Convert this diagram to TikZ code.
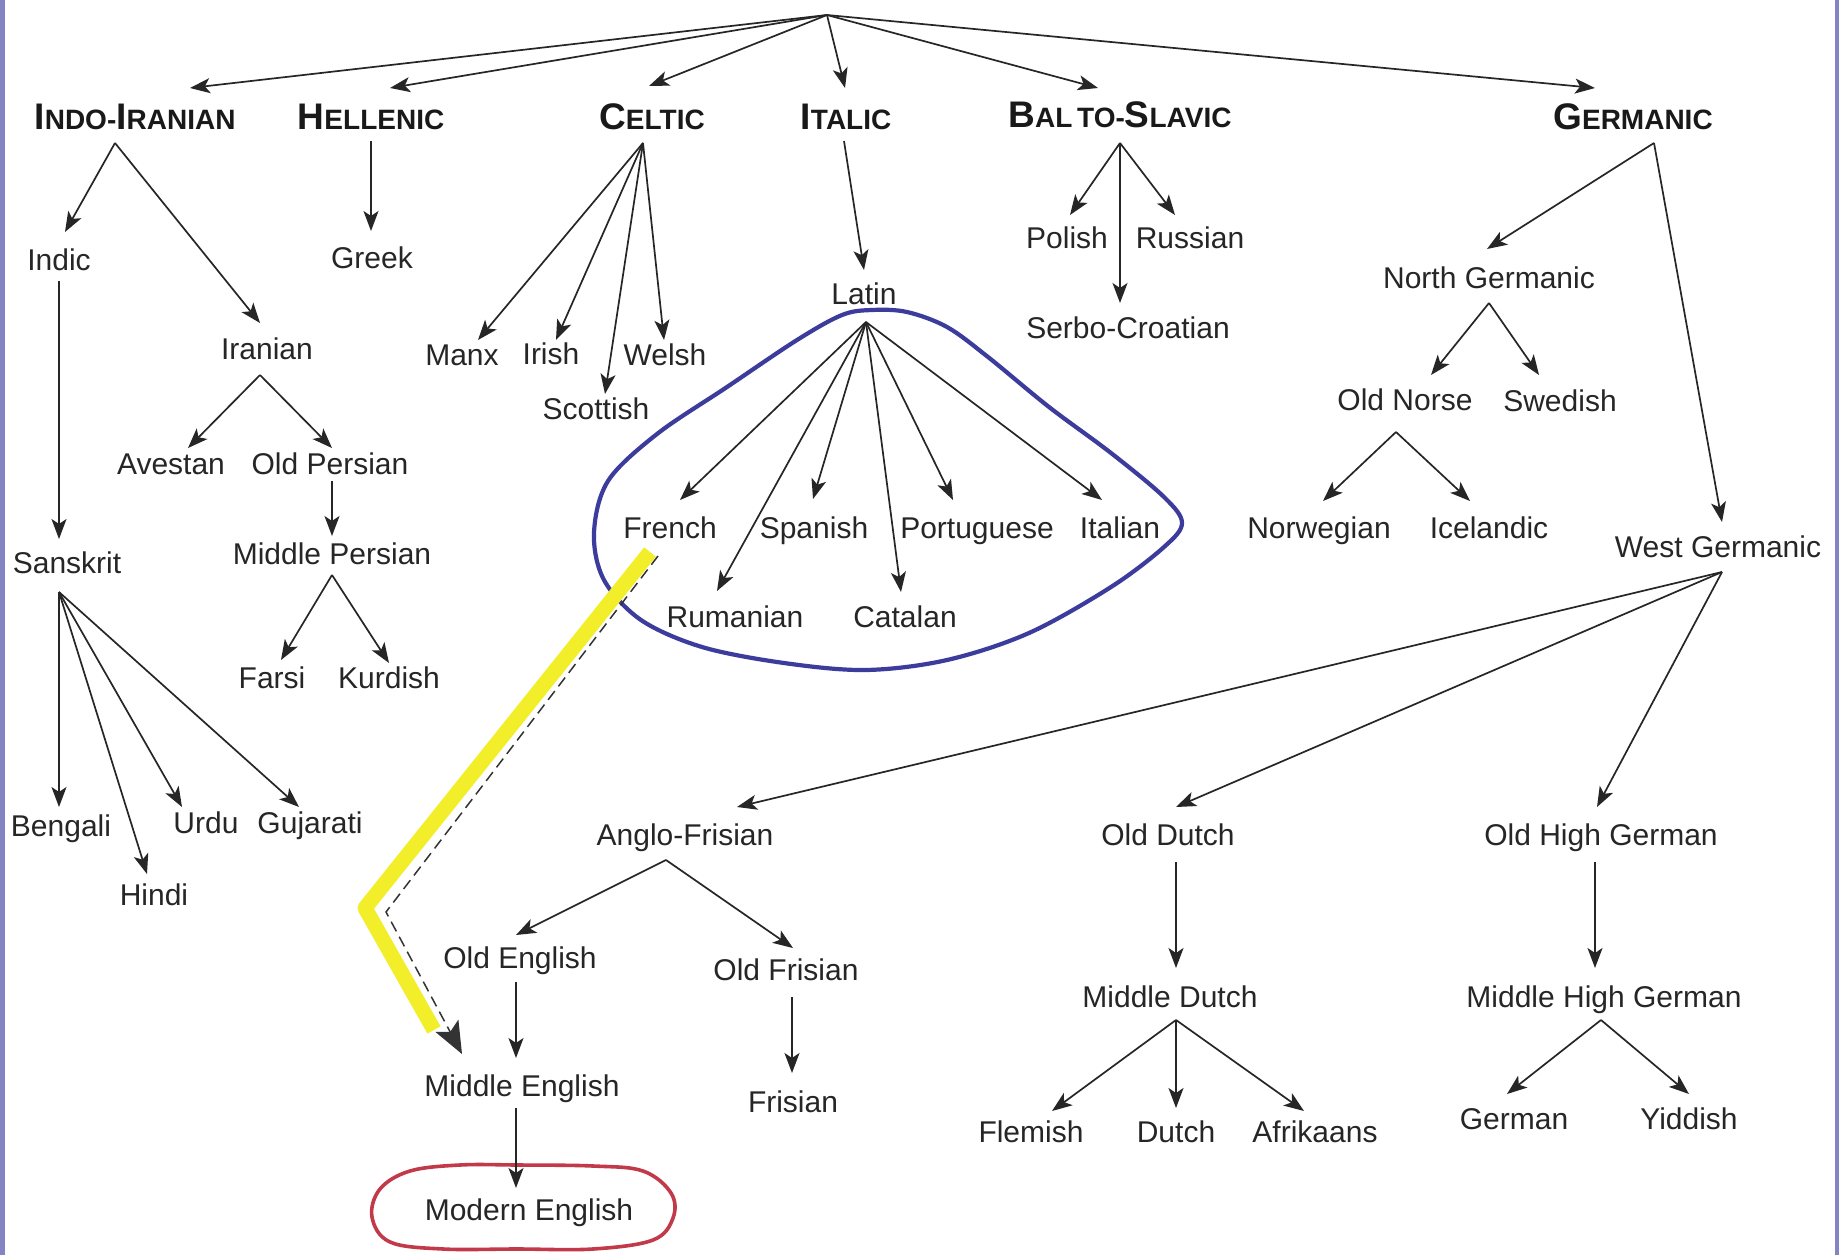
\documentclass[tikz,border=0pt]{standalone}
\usepackage{fontspec}
\setmainfont{Liberation Sans}
\usetikzlibrary{arrows.meta}
\definecolor{stripc}{HTML}{8484C4}
\definecolor{loopblue}{HTML}{3C3C9C}
\definecolor{hlyellow}{HTML}{F2EE2A}
\definecolor{ringred}{HTML}{C23A4A}
\newcommand\bigc[1]{{\fontsize{37}{40}\selectfont #1}}
\begin{document}
\begin{tikzpicture}[x=1pt,y=-1pt,
  lbl/.style={font=\fontsize{30}{34}\selectfont, text=black!85, inner sep=0pt, text height=22pt, text depth=1pt},
  hdr/.style={font=\fontsize{28}{32}\selectfont\bfseries, text=black!90, inner sep=0pt},
  arr/.style={-{Stealth[length=20pt,width=15pt,inset=5pt]}, line width=1.7pt, draw=black!85},
  bigarr/.style={-{Stealth[length=32pt,width=26pt,inset=7pt]}, line width=1.5pt, draw=black!80, dash pattern=on 11pt off 6pt},
  strip/.style={fill=stripc}]
\useasboundingbox (0,0) rectangle (1839,1255);
\fill[white] (0,0) rectangle (1839,1255);
\fill[strip] (0,0) rectangle (5,1255);
\fill[strip] (1835,0) rectangle (1839,1255);

\coordinate (root) at (827,15);
% headers
\node[hdr] (ii) at (135,117) {\bigc{I}NDO-\bigc{I}RANIAN};
\node[hdr] (hel) at (371,117) {\bigc{H}ELLENIC};
\node[hdr] (cel) at (652,117) {\bigc{C}ELTIC};
\node[hdr] (ita) at (846,117) {\bigc{I}TALIC};
\node[hdr] (bs) at (1120,115) {\bigc{B}AL\,TO-\bigc{S}LAVIC};
\node[hdr] (ger) at (1633,117) {\bigc{G}ERMANIC};

% labels
\node[lbl] (indic) at (59,260) {Indic};
\node[lbl] (iran) at (267,349) {Iranian};
\node[lbl] (aves) at (171,464) {Avestan};
\node[lbl] (opers) at (330,464) {Old Persian};
\node[lbl] (mpers) at (332,554) {Middle Persian};
\node[lbl] (farsi) at (272,678) {Farsi};
\node[lbl] (kurd) at (389,678) {Kurdish};
\node[lbl] (sansk) at (67,563) {Sanskrit};
\node[lbl] (beng) at (61,826) {Bengali};
\node[lbl] (hindi) at (154,895) {Hindi};
\node[lbl] (urdu) at (206,823) {Urdu};
\node[lbl] (guj) at (310,823) {Gujarati};
\node[lbl] (greek) at (372,258) {Greek};
\node[lbl] (manx) at (462,355) {Manx};
\node[lbl] (irish) at (551,354) {Irish};
\node[lbl] (welsh) at (665,355) {Welsh};
\node[lbl] (scot) at (596,409) {Scottish};
\node[lbl] (latin) at (864,294) {Latin};
\node[lbl] (french) at (670,528) {French};
\node[lbl] (span) at (814,528) {Spanish};
\node[lbl] (port) at (977,528) {Portuguese};
\node[lbl] (ital) at (1120,528) {Italian};
\node[lbl] (rum) at (735,617) {Rumanian};
\node[lbl] (cat) at (905,617) {Catalan};
\node[lbl] (pol) at (1067,238) {Polish};
\node[lbl] (rus) at (1190,238) {Russian};
\node[lbl] (serb) at (1128,328) {Serbo-Croatian};
\node[lbl] (ngerm) at (1489,278) {North Germanic};
\node[lbl] (onorse) at (1405,400) {Old Norse};
\node[lbl] (swed) at (1560,401) {Swedish};
\node[lbl] (norw) at (1319,528) {Norwegian};
\node[lbl] (icel) at (1489,528) {Icelandic};
\node[lbl] (wgerm) at (1718,547) {West Germanic};
\node[lbl] (afris) at (685,835) {Anglo-Frisian};
\node[lbl] (odutch) at (1168,835) {Old Dutch};
\node[lbl] (ohg) at (1601,835) {Old High German};
\node[lbl] (oeng) at (520,958) {Old English};
\node[lbl] (ofris) at (786,970) {Old Frisian};
\node[lbl] (meng) at (522,1086) {Middle English};
\node[lbl] (modeng) at (529,1210) {Modern English};
\node[lbl] (fris) at (793,1102) {Frisian};
\node[lbl] (mdutch) at (1170,997) {Middle Dutch};
\node[lbl] (flem) at (1031,1132) {Flemish};
\node[lbl] (dutch) at (1176,1132) {Dutch};
\node[lbl] (afrik) at (1315,1132) {Afrikaans};
\node[lbl] (mhg) at (1604,997) {Middle High German};
\node[lbl] (germ) at (1514,1119) {German};
\node[lbl] (yidd) at (1689,1119) {Yiddish};

% blue loop around the Romance group
\draw[loopblue, line width=4.2pt, line join=round] plot[smooth cycle, tension=0.55] coordinates {
 (872,310) (907,312) (947,327) (988,357) (1049,407) (1111,453) (1164,497) (1182,523)
 (1164,547) (1111,587) (1029,633) (947,660) (866,670) (784,663) (702,647) (641,620)
 (604,580) (594,533) (608,481) (657,434) (727,387) (797,340) (842,315)};

% red ring around Modern English
\draw[ringred, line width=3.6pt] plot[smooth cycle, tension=0.6] coordinates {
 (517,1165) (593,1166) (643,1171) (671,1193) (673,1218) (653,1240) (593,1249)
 (517,1249) (443,1249) (390,1242) (372,1217) (380,1189) (410,1171) (460,1165)};

% yellow highlight and dashed French -> Middle English
\coordinate (bend) at (386,912);
\draw[hlyellow, line width=15pt, line join=round] (650,552) -- (365,908) -- (434,1030);
\draw[bigarr] ([shift={(-12,28)}]french.center) -- (bend) -- ([shift={(-60,-32)}]meng.center);

% top level
\draw[arr] (root) -- ([shift={(55,-29)}]ii.center);
\draw[arr] (root) -- ([shift={(19,-29)}]hel.center);
\draw[arr] (root) -- ([shift={(-3,-31)}]cel.center);
\draw[arr] (root) -- ([shift={(-1,-29)}]ita.center);
\draw[arr] (root) -- ([shift={(-22,-27)}]bs.center);
\draw[arr] (root) -- ([shift={(-38,-29)}]ger.center);

% Indo-Iranian
\draw[arr] ([shift={(-20,26)}]ii.center) -- ([shift={(6,-28)}]indic.center);
\draw[arr] ([shift={(-20,26)}]ii.center) -- ([shift={(-7,-26)}]iran.center);
\draw[arr] ([shift={(0,21)}]indic.center) -- ([shift={(-8,-24)}]sansk.center);
\draw[arr] ([shift={(-7,26)}]iran.center) -- ([shift={(17,-16)}]aves.center);
\draw[arr] ([shift={(-7,26)}]iran.center) -- ([shift={(2,-16)}]opers.center);
\draw[arr] ([shift={(2,17)}]opers.center) -- ([shift={(0,-18)}]mpers.center);
\draw[arr] ([shift={(0,21)}]mpers.center) -- ([shift={(9,-18)}]farsi.center);
\draw[arr] ([shift={(0,21)}]mpers.center) -- ([shift={(0,-15)}]kurd.center);
\draw[arr] ([shift={(-8,29)}]sansk.center) -- ([shift={(-2,-19)}]beng.center);
\draw[arr] ([shift={(-8,29)}]sansk.center) -- ([shift={(-7,-21)}]hindi.center);
\draw[arr] ([shift={(-8,29)}]sansk.center) -- ([shift={(-24,-16)}]urdu.center);
\draw[arr] ([shift={(-8,29)}]sansk.center) -- ([shift={(-11,-16)}]guj.center);

% Hellenic, Celtic
\draw[arr] ([shift={(0,24)}]hel.center) -- ([shift={(-1,-27)}]greek.center);
\draw[arr] ([shift={(-9,26)}]cel.center) -- ([shift={(16,-15)}]manx.center);
\draw[arr] ([shift={(-9,26)}]cel.center) -- ([shift={(5,-14)}]irish.center);
\draw[arr] ([shift={(-9,26)}]cel.center) -- ([shift={(9,-15)}]scot.center);
\draw[arr] ([shift={(-9,26)}]cel.center) -- ([shift={(-1,-15)}]welsh.center);

% Italic
\draw[arr] ([shift={(-2,24)}]ita.center) -- ([shift={(0,-24)}]latin.center);
\draw[arr] ([shift={(2,28)}]latin.center) -- ([shift={(10,-28)}]french.center);
\draw[arr] ([shift={(2,28)}]latin.center) -- ([shift={(-18,-26)}]rum.center);
\draw[arr] ([shift={(2,28)}]latin.center) -- ([shift={(-1,-29)}]span.center);
\draw[arr] ([shift={(2,28)}]latin.center) -- ([shift={(-4,-25)}]cat.center);
\draw[arr] ([shift={(2,28)}]latin.center) -- ([shift={(-24,-28)}]port.center);
\draw[arr] ([shift={(2,28)}]latin.center) -- ([shift={(-18,-28)}]ital.center);

% Balto-Slavic
\draw[arr] ([shift={(0,28)}]bs.center) -- ([shift={(3,-23)}]pol.center);
\draw[arr] ([shift={(0,28)}]bs.center) -- ([shift={(-15,-23)}]rus.center);
\draw[arr] ([shift={(0,28)}]bs.center) -- ([shift={(-8,-25)}]serb.center);

% Germanic
\draw[arr] ([shift={(21,26)}]ger.center) -- ([shift={(-2,-29)}]ngerm.center);
\draw[arr] ([shift={(21,26)}]ger.center) -- ([shift={(4,-25)}]wgerm.center);
\draw[arr] ([shift={(0,25)}]ngerm.center) -- ([shift={(26,-25)}]onorse.center);
\draw[arr] ([shift={(0,25)}]ngerm.center) -- ([shift={(-21,-26)}]swed.center);
\draw[arr] ([shift={(-9,32)}]onorse.center) -- ([shift={(4,-27)}]norw.center);
\draw[arr] ([shift={(-9,32)}]onorse.center) -- ([shift={(-19,-27)}]icel.center);
\draw[arr] ([shift={(4,25)}]wgerm.center) -- ([shift={(52,-28)}]afris.center);
\draw[arr] ([shift={(4,25)}]wgerm.center) -- ([shift={(8,-28)}]odutch.center);
\draw[arr] ([shift={(4,25)}]wgerm.center) -- ([shift={(-4,-28)}]ohg.center);
\draw[arr] ([shift={(-19,25)}]afris.center) -- ([shift={(-4,-23)}]oeng.center);
\draw[arr] ([shift={(-19,25)}]afris.center) -- ([shift={(7,-22)}]ofris.center);
\draw[arr] ([shift={(-4,24)}]oeng.center) -- ([shift={(-6,-28)}]meng.center);
\draw[arr] ([shift={(-6,22)}]meng.center) -- ([shift={(-13,-22)}]modeng.center);
\draw[arr] ([shift={(6,27)}]ofris.center) -- ([shift={(-1,-29)}]fris.center);
\draw[arr] ([shift={(8,27)}]odutch.center) -- ([shift={(6,-29)}]mdutch.center);
\draw[arr] ([shift={(6,23)}]mdutch.center) -- ([shift={(21,-21)}]flem.center);
\draw[arr] ([shift={(6,23)}]mdutch.center) -- ([shift={(0,-24)}]dutch.center);
\draw[arr] ([shift={(6,23)}]mdutch.center) -- ([shift={(-11,-21)}]afrik.center);
\draw[arr] ([shift={(-6,27)}]ohg.center) -- ([shift={(-9,-29)}]mhg.center);
\draw[arr] ([shift={(-3,23)}]mhg.center) -- ([shift={(-7,-25)}]germ.center);
\draw[arr] ([shift={(-3,23)}]mhg.center) -- ([shift={(0,-25)}]yidd.center);
\end{tikzpicture}
\end{document}
